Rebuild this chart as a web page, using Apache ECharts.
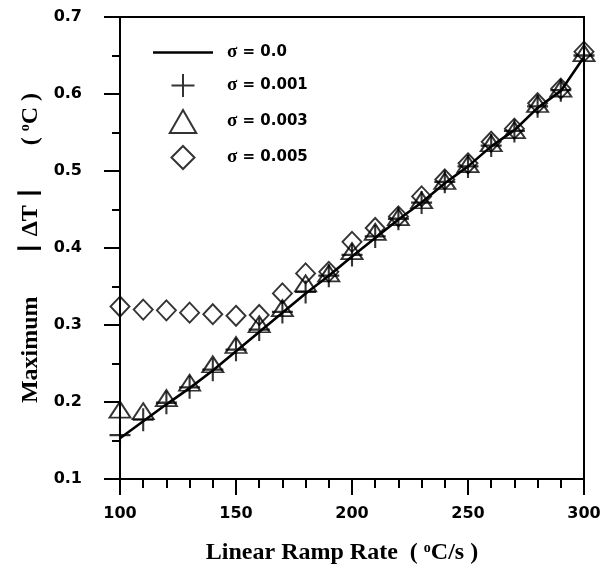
<!DOCTYPE html>
<html>
<head>
<meta charset="utf-8">
<script src="https://cdn.jsdelivr.net/npm/echarts@6/dist/echarts.min.js"></script>
<style>
  html, body { margin: 0; padding: 0; background: #fff; }
  #chart { width: 613px; height: 577px; }
</style>
</head>
<body>
<div id="chart"></div>
<script>
// Linear ramp rate (°C/s)
const rampRate = [100, 110, 120, 130, 140, 150, 160, 170, 180, 190, 200,
                  210, 220, 230, 240, 250, 260, 270, 280, 290, 300];

// Maximum |ΔT| (°C) for each noise level σ
const sigma0   = [0.153, 0.175, 0.197, 0.218, 0.241, 0.266, 0.291, 0.316, 0.341, 0.364, 0.389,
                  0.413, 0.437, 0.459, 0.484, 0.506, 0.532, 0.553, 0.582, 0.604, 0.648];
const sigma001 = [0.157, 0.177, 0.199, 0.219, 0.242, 0.268, 0.294, 0.317, 0.343, 0.364, 0.391,
                  0.415, 0.438, 0.459, 0.486, 0.506, 0.533, 0.552, 0.584, 0.605, 0.650];
const sigma003 = [0.190, 0.188, 0.205, 0.225, 0.249, 0.274, 0.301, 0.322, 0.354, 0.367, 0.396,
                  0.421, 0.440, 0.462, 0.487, 0.509, 0.536, 0.553, 0.587, 0.607, 0.653];
const sigma005 = [0.324, 0.320, 0.319, 0.316, 0.314, 0.312, 0.313, 0.341, 0.367, 0.369, 0.408,
                  0.426, 0.441, 0.467, 0.489, 0.510, 0.538, 0.555, 0.588, 0.607, 0.655];

const seriesNames = ['σ = 0.0', 'σ = 0.001', 'σ = 0.003', 'σ = 0.005'];

const yTicks = { min: 0.1, max: 0.7, interval: 0.1 };
const xTicks = { min: 100, max: 300, interval: 50 };

const pairs = arr => rampRate.map((x, i) => [x, arr[i]]);

const BLACK = '#000';
const tickFont = { fontFamily: 'DejaVu Sans', fontWeight: 'bold', fontSize: 16, color: BLACK };
const serif = 'Liberation Serif';
const nameRich = {
  t:   { fontFamily: serif, fontWeight: 'bold', fontSize: 24, color: BLACK },
  sup: { fontFamily: serif, fontWeight: 'bold', fontSize: 14, color: BLACK, verticalAlign: 'top', lineHeight: 14 },
  bar: { fontFamily: 'DejaVu Sans', fontSize: 20, color: BLACK },
  gap: { width: 42 }
};

// marker shapes
const PLUS = 'path://M10,0V20M0,10H20';
const LEGEND_LINE = 'path://M0,0H60V2.5H0Z';
const LEGEND_TRIANGLE = 'path://M0,20L11.5,0L23,20Z';
const LEGEND_DIAMOND = 'path://M11.5,0L23,11.5L11.5,23L0,11.5Z';

const chart = echarts.init(document.getElementById('chart'), null, { renderer: 'canvas' });

const hollowStyle = {
  color: 'rgba(0,0,0,0)',
  borderColor: BLACK,
  borderWidth: 1.9
};

chart.setOption({
  animation: false,
  backgroundColor: '#fff',
  grid: {
    left: 120, right: 29, top: 17, bottom: 98,
    show: true, borderColor: BLACK, borderWidth: 2, backgroundColor: 'transparent'
  },
  legend: {
    orient: 'vertical',
    left: 148, top: 38,
    itemWidth: 60, itemHeight: 23, itemGap: 11,
    formatter: name => '{s|σ}' + name.slice(1),
    textStyle: {
      fontFamily: 'DejaVu Sans', fontWeight: 'bold', fontSize: 15, color: BLACK,
      padding: [0, 0, 0, 9],
      rich: {
        s: { fontFamily: serif, fontSize: 19, color: BLACK }
      }
    },
    data: [
      { name: seriesNames[0], icon: LEGEND_LINE },
      { name: seriesNames[1], icon: PLUS },
      { name: seriesNames[2], icon: LEGEND_TRIANGLE },
      { name: seriesNames[3], icon: LEGEND_DIAMOND }
    ]
  },
  xAxis: {
    type: 'value',
    min: xTicks.min, max: xTicks.max, interval: xTicks.interval,
    name: '{t|Linear Ramp Rate  ( }{sup|o}{t|C/s )}',
    nameLocation: 'middle',
    nameGap: 62,
    nameTextStyle: { rich: nameRich, padding: [0, 20, 0, 0] },
    axisLine: { show: true, onZero: false, lineStyle: { color: BLACK, width: 2 } },
    axisTick: { show: true, inside: false, length: 16, lineStyle: { color: BLACK, width: 2 } },
    minorTick: { show: true, splitNumber: 5, length: 9, lineStyle: { color: BLACK, width: 2 } },
    splitLine: { show: false },
    axisLabel: Object.assign({ margin: 27 }, tickFont)
  },
  yAxis: {
    type: 'value',
    min: yTicks.min, max: yTicks.max, interval: yTicks.interval,
    name: '{t|Maximum}{gap| }{bar|┃}{t| ΔT }{bar|┃}{gap| }{t|( }{sup|o}{t|C )}',
    nameLocation: 'middle',
    nameGap: 65,
    nameTextStyle: { rich: nameRich },
    axisLine: { show: true, onZero: false, lineStyle: { color: BLACK, width: 2 } },
    axisTick: { show: true, inside: false, length: 16, lineStyle: { color: BLACK, width: 2 } },
    minorTick: { show: true, splitNumber: 2, length: 8, lineStyle: { color: BLACK, width: 2 } },
    splitLine: { show: false },
    axisLabel: Object.assign({ margin: 38, formatter: v => v.toFixed(1) }, tickFont)
  },
  series: [
    {
      name: seriesNames[0],
      type: 'line',
      data: pairs(sigma0),
      symbol: 'none',
      lineStyle: { color: BLACK, width: 2.6 },
      itemStyle: { color: BLACK },
      z: 2
    },
    {
      name: seriesNames[1],
      type: 'scatter',
      data: pairs(sigma001),
      symbol: PLUS,
      symbolSize: [21, 23],
      itemStyle: { color: 'rgba(0,0,0,0)', borderColor: BLACK, borderWidth: 2.2 },
      z: 3
    },
    {
      name: seriesNames[2],
      type: 'scatter',
      data: pairs(sigma003),
      symbol: 'triangle',
      symbolSize: [21, 16],
      itemStyle: hollowStyle,
      z: 4
    },
    {
      name: seriesNames[3],
      type: 'scatter',
      data: pairs(sigma005),
      symbol: 'diamond',
      symbolSize: [19, 20],
      itemStyle: hollowStyle,
      z: 5
    }
  ]
});
</script>
</body>
</html>
